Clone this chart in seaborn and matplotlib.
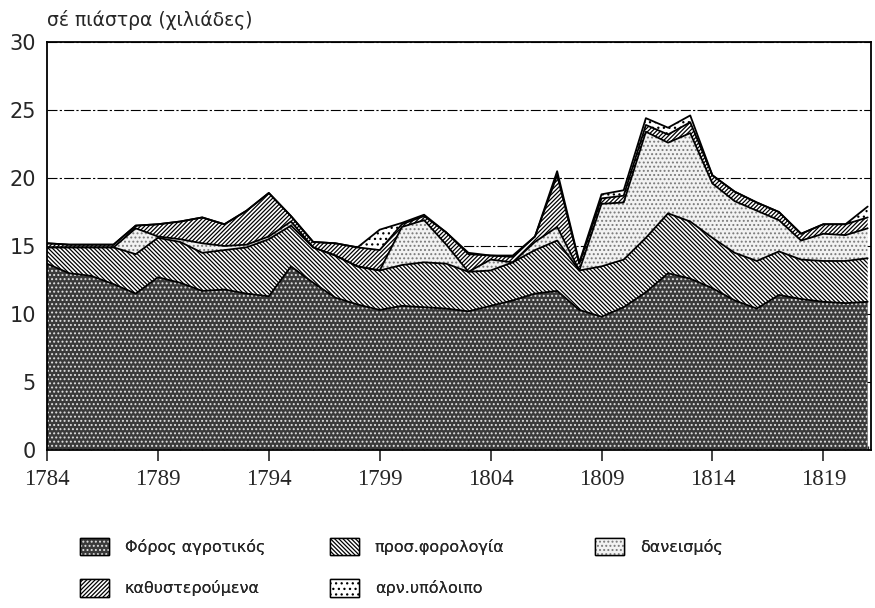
import matplotlib
matplotlib.use("Agg")
import matplotlib.pyplot as plt
from matplotlib.patches import Patch
from matplotlib.ticker import MultipleLocator
import numpy as np
import seaborn as sns

years = list(range(1784, 1822))
foros = [13.7, 13.0, 12.8, 12.2, 11.5, 12.7, 12.3, 11.7, 11.8, 11.5,
         11.3, 13.5, 12.3, 11.2, 10.7, 10.3, 10.6, 10.5, 10.4, 10.2,
         10.6, 11.0, 11.5, 11.7, 10.3, 9.8, 10.5, 11.6, 13.0, 12.6,
         11.9, 11.0, 10.4, 11.4, 11.1, 10.9, 10.8, 10.9]
pros = [1.2, 1.9, 2.1, 2.7, 2.9, 2.9, 3.0, 2.8, 2.9, 3.4,
        4.2, 3.0, 2.6, 3.1, 2.8, 2.9, 3.0, 3.3, 3.3, 2.9,
        2.6, 2.8, 3.2, 3.7, 2.9, 3.7, 3.5, 4.0, 4.4, 4.2,
        3.7, 3.5, 3.5, 3.2, 2.9, 3.0, 3.1, 3.2]
daneismos = [0.0, 0.0, 0.0, 0.0, 1.9, 0.1, 0.2, 0.7, 0.3, 0.2,
             0.2, 0.3, 0.0, 0.0, 0.0, 0.0, 2.8, 3.1, 1.4, 0.0,
             0.8, 0.0, 0.6, 1.0, 0.0, 4.6, 4.2, 7.8, 5.2, 6.5,
             4.0, 3.8, 3.7, 2.3, 1.4, 2.0, 1.9, 2.2]
kathyst = [0.3, 0.2, 0.2, 0.2, 0.2, 0.9, 1.3, 1.9, 1.6, 2.5,
           3.2, 0.4, 0.4, 0.9, 1.4, 1.5, 0.2, 0.3, 0.9, 1.3,
           0.3, 0.4, 0.4, 3.8, 0.5, 0.4, 0.5, 0.5, 0.6, 0.8,
           0.6, 0.7, 0.6, 0.6, 0.5, 0.7, 0.8, 0.8]
arn = [0.0, 0.0, 0.0, 0.0, 0.0, 0.0, 0.0, 0.0, 0.0, 0.0,
       0.0, 0.0, 0.0, 0.0, 0.0, 1.5, 0.1, 0.1, 0.0, 0.1,
       0.0, 0.1, 0.0, 0.3, 0.1, 0.3, 0.4, 0.5, 0.5, 0.5,
       0.0, 0.0, 0.0, 0.0, 0.0, 0.0, 0.0, 0.8]

series_labels = ["Φόρος αγροτικός", "προσ.φορολογία", "δανεισμός",
                 "καθυστερούμενα", "αρν.υπόλοιπο"]
xticks = [1784, 1789, 1794, 1799, 1804, 1809, 1814, 1819]
yticks = [0, 5, 10, 15, 20, 25, 30]
ylabel_text = "σέ πιάστρα (χιλιάδες)"

sns.set_style("white")
plt.rcParams["font.family"] = ["DejaVu Sans"]
plt.rcParams["hatch.linewidth"] = 0.9

faces = ["#3a3a3a", "white", "#f2f2f2", "white", "white"]
hatch_cols = ["#e0e0e0", "black", "#7a7a7a", "black", "black"]
hatches = ["....", "\\\\\\\\\\\\\\\\", "....", "////////", "..."]

fig = plt.figure(figsize=(8.75, 6.08), dpi=100)
ax = fig.add_axes([47 / 875, 1 - 450 / 608, (871 - 47) / 875, (450 - 42) / 608])

ax.set_axisbelow(True)
ax.grid(axis="y", color="black", linestyle=(0, (9, 2, 2, 2)), linewidth=0.8)
ax.grid(axis="x", visible=False)

data = [foros, pros, daneismos, kathyst, arn]
polys = ax.stackplot(years, *data, colors=faces, hatch=hatches)
for p, hc in zip(polys, hatch_cols):
    p.set_edgecolor(hc)
    p.set_linewidth(0)

cum = np.cumsum(np.array(data), axis=0)
for row in cum:
    ax.plot(years, row, color="black", linewidth=1.3, zorder=3)

ax.set_xlim(1784, 1821.15)
ax.set_ylim(0, 30)
ax.set_xticks(xticks)
ax.set_yticks(yticks)
ax.xaxis.set_minor_locator(MultipleLocator(1))
ax.tick_params(axis="x", which="major", direction="out", length=8, width=1.2,
               pad=6, labelsize=16.5, bottom=True)
ax.tick_params(axis="x", which="minor", direction="in", length=3, width=1,
               bottom=True)
ax.tick_params(axis="y", length=0, pad=8, labelsize=15)
for lab in ax.get_xticklabels():
    lab.set_fontfamily("Liberation Serif")
for sp in ax.spines.values():
    sp.set_visible(True)
    sp.set_color("black")
    sp.set_linewidth(1.3)

fig.text(47 / 875, 1 - 20 / 608, ylabel_text, fontsize=13.5, va="center", ha="left")

def make_handle(i):
    hatched = Patch(facecolor=faces[i], edgecolor=hatch_cols[i],
                    hatch=hatches[i], linewidth=0)
    frame = Patch(facecolor="none", edgecolor="black", linewidth=1.0)
    return (hatched, frame)

columns = [([0, 3], 80), ([1, 4], 330), ([2], 595)]
for idx, xpix in columns:
    leg = fig.legend([make_handle(i) for i in idx],
                     [series_labels[i] for i in idx],
                     loc="upper left", bbox_to_anchor=(xpix / 875, 1 - 538 / 608),
                     ncol=1, frameon=False, fontsize=11.5, handlelength=1.8,
                     handleheight=1.3, labelspacing=1.5, handletextpad=1.0,
                     borderpad=0, borderaxespad=0)
    fig.add_artist(leg)

fig.savefig("out.png", dpi=100)
